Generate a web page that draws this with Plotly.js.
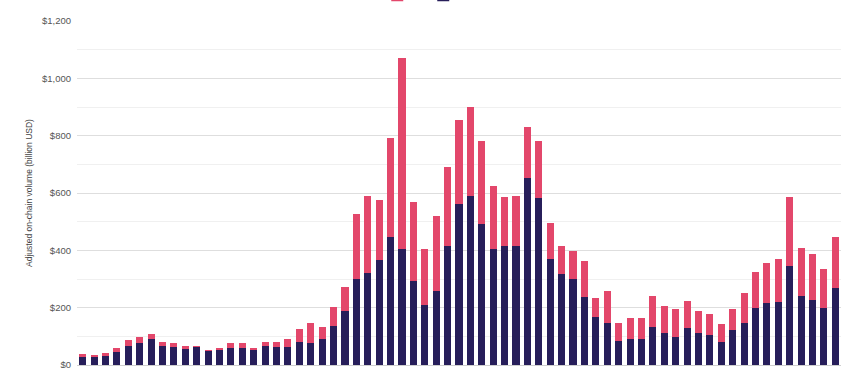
<!DOCTYPE html>
<html>
<head>
<meta charset="utf-8">
<script src="https://cdn.plot.ly/plotly-3.0.1.min.js"></script>
<style>html,body{margin:0;padding:0;background:#fff;}#chart{width:865px;height:368px;}</style>
</head>
<body>
<div id="chart"></div>
<script>
// Monthly categories (x tick labels are cropped out of the reference)
const months = [];
for (let y = 2019; y <= 2024; y++) {
  for (let m = 1; m <= 12; m++) {
    if (y === 2024 && m > 7) break;
    months.push(y + '-' + String(m).padStart(2, '0'));
  }
}

// Bottom (navy) series, billion USD
const navyValues = [29, 29, 33, 47, 66, 78, 91, 67, 64, 55, 62, 49, 53, 60, 60, 51, 67, 64, 64, 80,
  78, 92, 136, 190, 299, 320, 366, 445, 405, 293, 209, 258, 416, 562, 591, 492, 405, 416, 416, 651,
  581, 370, 316, 299, 236, 166, 145, 85, 91, 90, 131, 113, 97, 130, 113, 105, 81, 122, 145, 198,
  217, 219, 347, 241, 227, 198, 267];

const totalValues = [40, 35, 41, 60, 87, 99, 108, 81, 76, 66, 67, 52, 60, 76, 76, 60, 81, 79, 90, 124,
  148, 134, 203, 273, 527, 590, 576, 791, 1070, 570, 403, 520, 690, 855, 901, 783, 626, 585, 591, 829,
  781, 497, 415, 399, 364, 235, 259, 145, 163, 163, 242, 206, 195, 224, 188, 177, 143, 194, 252, 326,
  355, 369, 585, 407, 387, 335, 445];

// Top (pink) series = total - navy
const pinkValues = totalValues.map((t, i) => t - navyValues[i]);

const seriesNames = ['DeFi', 'Centralized services'];
const tickVals = [0, 200, 400, 600, 800, 1000, 1200];
const tickText = ['$0', '$200', '$400', '$600', '$800', '$1,000', '$1,200'];

const traces = [
  {type: 'bar', name: seriesNames[1], x: months, y: navyValues,
   marker: {color: '#271E5A'}, showlegend: true, legendrank: 2},
  {type: 'bar', name: seriesNames[0], x: months, y: pinkValues,
   marker: {color: '#E3476B'}, showlegend: true, legendrank: 1}
];

const layout = {
  width: 865, height: 368,
  margin: {l: 77, r: 24, t: 21, b: 3, autoexpand: false},
  paper_bgcolor: '#fff', plot_bgcolor: '#fff',
  barmode: 'stack', bargap: 0.38,
  font: {family: 'Liberation Sans, Arial, sans-serif', color: '#555'},
  showlegend: true,
  legend: {orientation: 'h', x: 0.393, xanchor: 'left', y: 1.033, yanchor: 'bottom',
    entrywidth: 1, entrywidthmode: 'pixels', itemwidth: 30,
    traceorder: 'normal', font: {size: 9, color: '#555'}, bgcolor: 'rgba(0,0,0,0)'},
  xaxis: {type: 'category', showticklabels: false, showgrid: false, zeroline: false,
    showline: false, ticks: '', fixedrange: true},
  yaxis: {range: [0, 1200], tickvals: tickVals, ticktext: tickText,
    tickfont: {size: 9.5, color: '#555'}, ticklabelstandoff: 5, ticklabeloverflow: 'allow',
    showgrid: true, gridcolor: '#dedede', gridwidth: 1,
    minor: {dtick: 100, tick0: 0, showgrid: true, gridcolor: '#f0f0f0', gridwidth: 1, ticks: ''},
    zeroline: true, zerolinecolor: '#cfcfcf', zerolinewidth: 1,
    showline: false, ticks: '', automargin: false,
    title: {text: 'Adjusted on-chain volume (billion USD)', font: {size: 8.5, color: '#444'}, standoff: 7}}
};

Plotly.newPlot('chart', traces, layout, {displayModeBar: false, staticPlot: true});
</script>
</body>
</html>
